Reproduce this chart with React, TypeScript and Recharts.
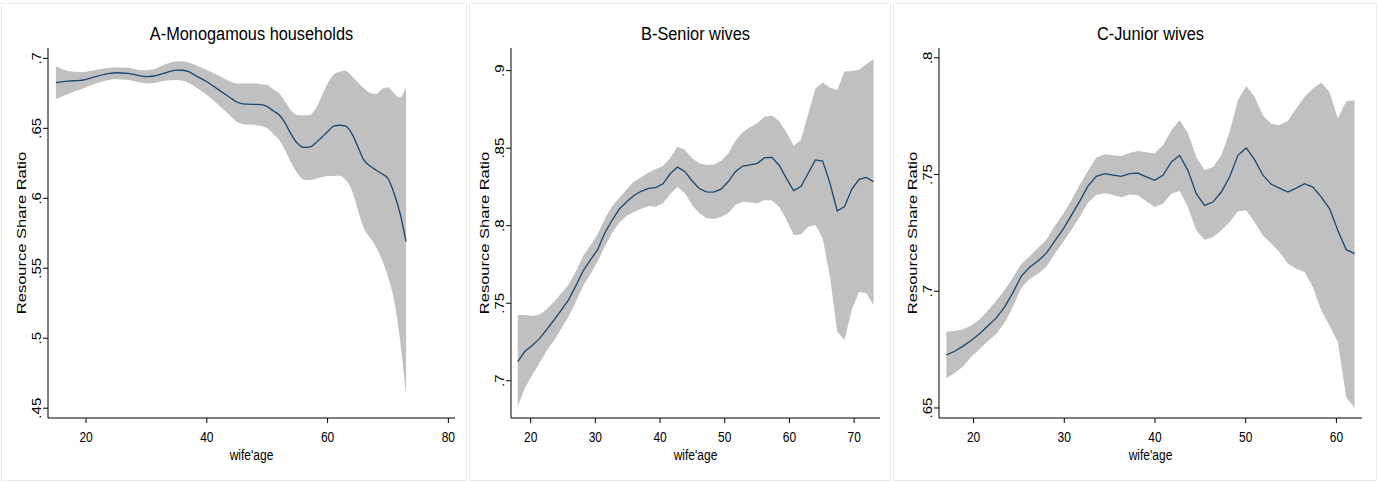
import React from 'react';
import { ComposedChart, Area, Line, XAxis, YAxis } from 'recharts';

// ---------- Panel A: Monogamous households ----------
const agesA = [15, 17, 19, 20, 22, 24, 25, 27, 29, 30, 31, 33, 35, 36, 37, 38, 40, 42, 44, 45, 46, 48, 49, 50, 51, 52, 53, 54, 55, 56, 57, 58, 59, 60, 61, 62, 63, 64, 65, 66, 67, 68, 69, 70, 71, 72, 73];
const fitA = [0.6826, 0.6838, 0.6842, 0.685, 0.6875, 0.6893, 0.6897, 0.6893, 0.6875, 0.687, 0.6872, 0.6895, 0.6916, 0.6915, 0.6905, 0.688, 0.6833, 0.6775, 0.6715, 0.6688, 0.6674, 0.6671, 0.667, 0.6655, 0.6625, 0.6595, 0.6535, 0.6455, 0.6393, 0.6364, 0.6365, 0.6395, 0.6435, 0.6476, 0.6515, 0.6522, 0.6516, 0.6464, 0.637, 0.6274, 0.6232, 0.6202, 0.6175, 0.6143, 0.6036, 0.5893, 0.569];
const upA = [0.6945, 0.691, 0.6902, 0.6904, 0.692, 0.6933, 0.6935, 0.6933, 0.6915, 0.6914, 0.692, 0.6955, 0.6979, 0.698, 0.697, 0.6955, 0.6916, 0.6875, 0.6833, 0.6821, 0.682, 0.682, 0.6815, 0.681, 0.678, 0.675, 0.669, 0.6625, 0.6595, 0.6593, 0.6595, 0.664, 0.673, 0.6821, 0.6885, 0.6904, 0.6911, 0.6874, 0.683, 0.6786, 0.6755, 0.6745, 0.678, 0.6793, 0.675, 0.6721, 0.6797];
const loA = [0.6707, 0.6745, 0.6775, 0.6793, 0.6825, 0.6848, 0.685, 0.6845, 0.6827, 0.6821, 0.6823, 0.684, 0.6845, 0.684, 0.6825, 0.6798, 0.6738, 0.6665, 0.6585, 0.6547, 0.653, 0.6524, 0.6517, 0.65, 0.646, 0.6416, 0.634, 0.625, 0.6179, 0.6135, 0.6131, 0.6138, 0.615, 0.6159, 0.616, 0.6161, 0.6131, 0.606, 0.592, 0.5786, 0.572, 0.5654, 0.556, 0.544, 0.5274, 0.4988, 0.4595];
const xTicksA = [20, 40, 60, 80];
const yTicksA = [0.45, 0.5, 0.55, 0.6, 0.65, 0.7];
const yTickLabelsA = ['.45', '.5', '.55', '.6', '.65', '.7'];

// ---------- Panel B: Senior wives ----------
const agesB = [18, 19.12, 20.24, 21.37, 22.49, 23.61, 24.73, 25.86, 26.98, 28.1, 29.22, 30.35, 31.47, 32.59, 33.71, 34.84, 35.96, 37.08, 38.2, 39.33, 40.45, 41.57, 42.69, 43.82, 44.94, 46.06, 47.18, 48.31, 49.43, 50.55, 51.67, 52.8, 53.92, 55.04, 56.16, 57.29, 58.41, 59.53, 60.65, 61.78, 62.9, 64.02, 65.14, 66.27, 67.39, 68.51, 69.63, 70.76, 71.88, 73];
const fitB = [0.7123, 0.719, 0.7228, 0.7272, 0.7332, 0.7392, 0.7455, 0.7522, 0.7612, 0.7708, 0.7778, 0.7845, 0.7955, 0.8035, 0.8108, 0.8155, 0.8195, 0.8222, 0.8241, 0.8246, 0.827, 0.8335, 0.8378, 0.835, 0.829, 0.824, 0.8218, 0.8217, 0.8236, 0.8285, 0.835, 0.8385, 0.8392, 0.8402, 0.8439, 0.8441, 0.839, 0.8305, 0.8226, 0.8252, 0.8338, 0.8424, 0.8417, 0.8273, 0.8095, 0.8123, 0.8235, 0.8299, 0.8312, 0.8284];
const upB = [0.7424, 0.7424, 0.7417, 0.7428, 0.7462, 0.751, 0.7565, 0.762, 0.7705, 0.7805, 0.787, 0.7945, 0.8045, 0.8125, 0.818, 0.8235, 0.8283, 0.8312, 0.8342, 0.8365, 0.8385, 0.8435, 0.851, 0.849, 0.8435, 0.8402, 0.8392, 0.8395, 0.8418, 0.8465, 0.855, 0.8605, 0.8635, 0.8663, 0.8703, 0.871, 0.8675, 0.8605, 0.8516, 0.8553, 0.872, 0.8885, 0.8923, 0.889, 0.8875, 0.8994, 0.8998, 0.9005, 0.9043, 0.9075];
const loB = [0.6832, 0.6955, 0.7035, 0.7115, 0.7195, 0.726, 0.7335, 0.7415, 0.751, 0.7612, 0.7685, 0.777, 0.7865, 0.7955, 0.802, 0.8065, 0.8088, 0.811, 0.8127, 0.8122, 0.8145, 0.8205, 0.825, 0.821, 0.8135, 0.808, 0.8048, 0.8043, 0.8057, 0.808, 0.8135, 0.8155, 0.815, 0.8145, 0.8166, 0.8162, 0.812, 0.804, 0.794, 0.7944, 0.7994, 0.8004, 0.7919, 0.767, 0.7316, 0.7263, 0.7456, 0.7574, 0.7564, 0.7488];
const xTicksB = [20, 30, 40, 50, 60, 70];
const yTicksB = [0.7, 0.75, 0.8, 0.85, 0.9];
const yTickLabelsB = ['.7', '.75', '.8', '.85', '.9'];

// ---------- Panel C: Junior wives ----------
const agesC = [17, 17.92, 18.84, 19.76, 20.67, 21.59, 22.51, 23.43, 24.35, 25.27, 26.18, 27.1, 28.02, 28.94, 29.86, 30.78, 31.69, 32.61, 33.53, 34.45, 35.37, 36.29, 37.2, 38.12, 39.04, 39.96, 40.88, 41.8, 42.71, 43.63, 44.55, 45.47, 46.39, 47.31, 48.22, 49.14, 50.06, 50.98, 51.9, 52.82, 53.73, 54.65, 55.57, 56.49, 57.41, 58.33, 59.24, 60.16, 61.08, 62];
const fitC = [0.6727, 0.6743, 0.6765, 0.679, 0.6818, 0.6852, 0.6886, 0.6933, 0.6995, 0.7065, 0.7103, 0.713, 0.7163, 0.7215, 0.7265, 0.7325, 0.7385, 0.745, 0.7492, 0.7504, 0.7497, 0.7492, 0.7504, 0.7506, 0.749, 0.7475, 0.7497, 0.7554, 0.7582, 0.7518, 0.7418, 0.7368, 0.7382, 0.7425, 0.7489, 0.7582, 0.7614, 0.7564, 0.7497, 0.7458, 0.7442, 0.7425, 0.7442, 0.7461, 0.7446, 0.7403, 0.7354, 0.726, 0.7178, 0.7161];
const upC = [0.6827, 0.683, 0.6837, 0.6853, 0.688, 0.6918, 0.696, 0.7005, 0.706, 0.7117, 0.715, 0.7185, 0.7221, 0.728, 0.733, 0.739, 0.7455, 0.7515, 0.7573, 0.7587, 0.7583, 0.7579, 0.7592, 0.7601, 0.7595, 0.759, 0.7625, 0.769, 0.7733, 0.7678, 0.7575, 0.7518, 0.7532, 0.7582, 0.7682, 0.7818, 0.7879, 0.7833, 0.7754, 0.7718, 0.7711, 0.773, 0.7783, 0.7833, 0.7869, 0.7893, 0.7854, 0.774, 0.7814, 0.7818];
const loC = [0.6627, 0.665, 0.6678, 0.672, 0.6752, 0.6787, 0.6817, 0.6865, 0.6935, 0.7015, 0.7052, 0.7075, 0.7105, 0.716, 0.721, 0.7262, 0.7318, 0.738, 0.7411, 0.7421, 0.7412, 0.7403, 0.7414, 0.7411, 0.7385, 0.7361, 0.7375, 0.7418, 0.7429, 0.7361, 0.726, 0.7221, 0.7232, 0.726, 0.7296, 0.7343, 0.7346, 0.7296, 0.7239, 0.7203, 0.7167, 0.7118, 0.7096, 0.7082, 0.7017, 0.6917, 0.6853, 0.6781, 0.6545, 0.6502];
const xTicksC = [20, 30, 40, 50, 60];
const yTicksC = [0.65, 0.7, 0.75, 0.8];
const yTickLabelsC = ['.65', '.7', '.75', '.8'];

const titles = ['A-Monogamous households', 'B-Senior wives', 'C-Junior wives'];
const xTitle = "wife'age";
const yTitle = 'Resource Share Ratio';

const FONT = "'Liberation Sans', Arial, Helvetica, sans-serif";
const NAVY = '#1a476f';
const BAND = '#c0c0c0';
const H = 483;
const PLOT_TOP = 48;
const PLOT_BOTTOM = 418;
const XAXIS_H = 40;

function buildRows(ages: number[], fit: number[], lo: number[], up: number[]) {
  return ages.map((a, i) => ({ age: a, fit: fit[i], band: [lo[i], up[i]] }));
}

const panels = [
  {
    left: 0, width: 467, axisX: 48, plotRight: 455,
    rows: buildRows(agesA, fitA, loA, upA),
    xDomain: [13.7, 81.1], xTicks: xTicksA,
    yDomain: [0.443, 0.7074], yTicks: yTicksA, yLabels: yTickLabelsA,
    curve: 'monotone', title: titles[0],
  },
  {
    left: 469, width: 422, axisX: 511, plotRight: 880,
    rows: buildRows(agesB, fitB, loB, upB),
    xDomain: [16.96, 74.0], xTicks: xTicksB,
    yDomain: [0.676, 0.9146], yTicks: yTicksB, yLabels: yTickLabelsB,
    curve: 'linear', title: titles[1],
  },
  {
    left: 893, width: 485, axisX: 939, plotRight: 1362,
    rows: buildRows(agesC, fitC, loC, upC),
    xDomain: [16.19, 62.82], xTicks: xTicksC,
    yDomain: [0.6457, 0.8042], yTicks: yTicksC, yLabels: yTickLabelsC,
    curve: 'linear', title: titles[2],
  },
];

const XTick = (props: any) => {
  const { x, y, payload } = props;
  return (
    <text transform={`translate(${x},${y}) scale(0.8,1)`} textAnchor="middle" dy="0.71em"
      fontSize={15} fontFamily={FONT} fill="#000">
      {payload.value}
    </text>
  );
};

const makeYTick = (ticks: number[], labels: string[]) => (props: any) => {
  const { x, y, payload } = props;
  const idx = ticks.findIndex((t) => Math.abs(t - payload.value) < 1e-9);
  const label = idx >= 0 ? labels[idx] : String(payload.value);
  return (
    <text transform={`translate(${x},${y}) scale(0.8,1) rotate(-90)`} textAnchor="middle"
      fontSize={15} fontFamily={FONT} fill="#000">
      {label}
    </text>
  );
};

function Panel(p: any) {
  const yAxisW = p.axisX - p.left;
  const rightM = p.left + p.width - p.plotRight;
  const bottomM = H - PLOT_BOTTOM - XAXIS_H;
  const cx = (p.axisX + p.plotRight) / 2 - p.left;
  const cy = (PLOT_TOP + PLOT_BOTTOM) / 2;
  return (
    <div style={{ position: 'absolute', left: p.left, top: 0, width: p.width, height: H }}>
      <ComposedChart width={p.width} height={H} data={p.rows}
        margin={{ top: PLOT_TOP, right: rightM, bottom: bottomM, left: 0 }}>
        <XAxis dataKey="age" type="number" domain={p.xDomain} ticks={p.xTicks} allowDataOverflow
          height={XAXIS_H} tickSize={5} tickMargin={8} interval={0}
          axisLine={{ stroke: '#000', strokeWidth: 1 }} tickLine={{ stroke: '#000', strokeWidth: 1 }}
          tick={<XTick />} />
        <YAxis type="number" domain={p.yDomain} ticks={p.yTicks} allowDataOverflow
          width={yAxisW} tickSize={5} tickMargin={2} interval={0}
          axisLine={{ stroke: '#000', strokeWidth: 1 }} tickLine={{ stroke: '#000', strokeWidth: 1 }}
          tick={makeYTick(p.yTicks, p.yLabels)} />
        <Area type={p.curve} dataKey="band" fill={BAND} fillOpacity={1} stroke="none"
          isAnimationActive={false} dot={false} activeDot={false} />
        <Line type={p.curve} dataKey="fit" stroke={NAVY} strokeWidth={1.3} dot={false}
          activeDot={false} isAnimationActive={false} />
      </ComposedChart>
      <svg width={p.width} height={H} style={{ position: 'absolute', left: 0, top: 0, pointerEvents: 'none' }}>
        <text transform={`translate(${cx},40) scale(0.86,1)`} textAnchor="middle" fontSize={19}
          fontFamily={FONT} fill="#000">{p.title}</text>
        <text transform={`translate(${cx},460) scale(0.8,1)`} textAnchor="middle" fontSize={15}
          fontFamily={FONT} fill="#000">{xTitle}</text>
        <text transform={`translate(${yAxisW - 22},${cy}) scale(0.8,1) rotate(-90)`} textAnchor="middle"
          fontSize={16.5} fontFamily={FONT} fill="#000">{yTitle}</text>
      </svg>
    </div>
  );
}

const borders = [
  { left: 1, width: 466 },
  { left: 469, width: 422 },
  { left: 893, width: 484 },
];

export default function App() {
  return (
    <div style={{ position: 'absolute', left: 0, top: 0, width: 1378, height: H, background: '#fff', overflow: 'hidden' }}>
      {borders.map((b, i) => (
        <div key={i} style={{ position: 'absolute', left: b.left, top: 3, width: b.width, height: 478,
          border: '1px solid #e6ecef', boxSizing: 'border-box' }} />
      ))}
      {panels.map((p, i) => <Panel key={i} {...p} />)}
    </div>
  );
}
